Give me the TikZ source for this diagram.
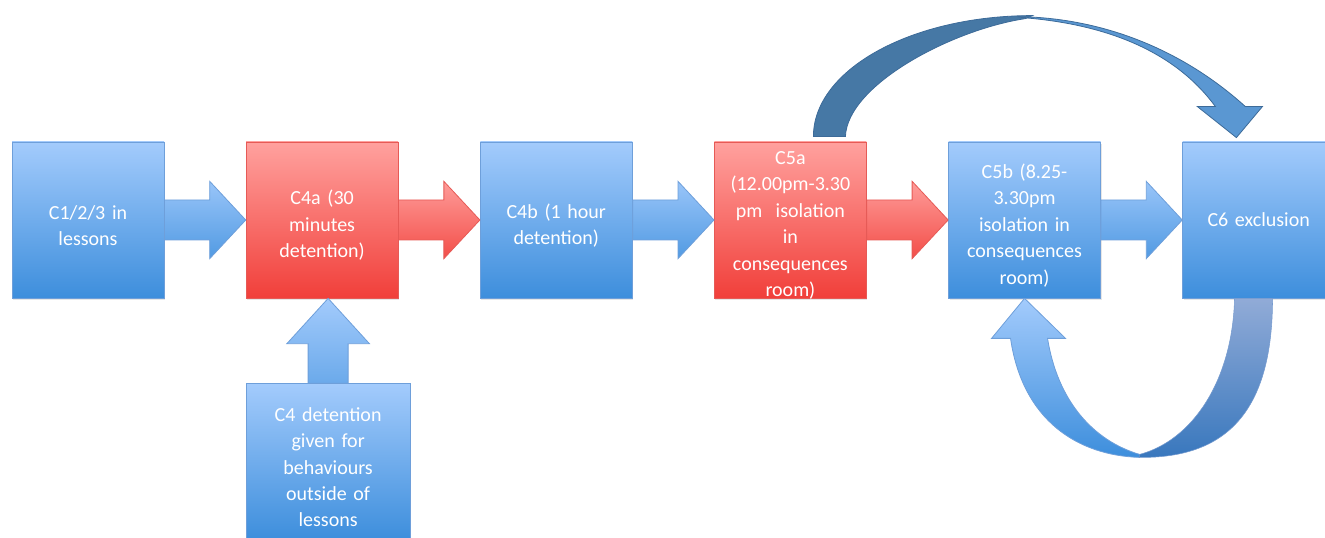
\documentclass[tikz,border=0pt]{standalone}
\usepackage{fontspec}
\setmainfont{Carlito}
\usetikzlibrary{positioning, calc, shadows}

\definecolor{bluetop}{HTML}{A3CBFC}
\definecolor{bluebot}{HTML}{3D8EDC}
\definecolor{blueline}{HTML}{6E9FDA}
\definecolor{redtop}{HTML}{FFA19E}
\definecolor{redbot}{HTML}{F13F3A}
\definecolor{redline}{HTML}{E65A56}
\definecolor{arcdark}{HTML}{4678A5}
\definecolor{arclight}{HTML}{5A97D2}
\definecolor{arcline}{HTML}{3D6B99}
\definecolor{loopgrey}{HTML}{91ABD7}
\definecolor{loopbot}{HTML}{3877BD}

% pull the text a little lower inside the boxes
\newcommand{\boxtail}{\par\kern-8pt}

\begin{document}
\begin{tikzpicture}[
    x=0.75pt, y=-0.75pt,
    box/.style={rectangle, draw=blueline, line width=0.6pt, top color=bluetop, bottom color=bluebot, minimum width=114pt, minimum height=117pt, text width=106pt, align=center, inner sep=0pt, text=white, font=\fontsize{15}{19.8}\selectfont, execute at end node=\boxtail, drop shadow={opacity=0.2, shadow xshift=0.8pt, shadow yshift=-1.2pt}},
    redbox/.style={box, draw=redline, top color=redtop, bottom color=redbot},
    bluearrow/.style={draw=blueline, line width=0.6pt, top color=bluetop!90!bluebot, bottom color=bluebot!80!bluetop,
        to path={let \p1=(\tikztostart), \p2=(\tikztotarget) in (\x1,\y1+15pt) -- (\x2-27pt,\y1+15pt) -- (\x2-27pt,\y1+29pt) -- (\x2,\y1) -- (\x2-27pt,\y1-29pt) -- (\x2-27pt,\y1-15pt) -- (\x1,\y1-15pt) -- cycle}},
    redarrow/.style={bluearrow, draw=redline, top color=redtop!95!redbot, bottom color=redbot!85!redtop},
    uparrow/.style={draw=blueline, line width=0.6pt, top color=bluetop, bottom color=bluetop!45!bluebot,
        to path={let \p1=(\tikztostart), \p2=(\tikztotarget) in (\x1-15pt,\y1) -- (\x1-15pt,\y2-34pt) -- (\x1-31pt,\y2-34pt) -- (\x1,\y2) -- (\x1+31pt,\y2-34pt) -- (\x1+15pt,\y2-34pt) -- (\x1+15pt,\y1) -- cycle}}
]
\useasboundingbox (0,0) rectangle (1325,538);
\clip (0,0) rectangle (1325,538);

% Boxes
\node[box] (c1) at (88,220) {C1/2/3 in\\lessons};
\node[redbox, right=61pt of c1] (c4a) {C4a (30\\minutes\\detention)};
\node[box, right=61pt of c4a] (c4b) {C4b (1 hour\\detention)};
\node[redbox, right=61pt of c4b] (c5a) {C5a\\(12.00pm-3.30\\pm~ isolation\\in\\consequences\\room)};
\node[box, right=61pt of c5a] (c5b) {C5b (8.25-\\3.30pm\\isolation in\\consequences\\room)};
\node[box, right=61pt of c5b] (c6) {C6 exclusion};
\node[box, minimum width=123pt, text width=115pt, below=63.75pt of c4a, xshift=4.5pt] (c4d) {C4 detention\\given for\\behaviours\\outside of\\lessons};

% Arrows
\draw[bluearrow] (c1.east) to (c4a.west);
\draw[redarrow] (c4a.east) to (c4b.west);
\draw[bluearrow] (c4b.east) to (c5a.west);
\draw[redarrow] (c5a.east) to (c5b.west);
\draw[bluearrow] (c5b.east) to (c6.west);
\draw[uparrow] (c4d.north) to (c4a.south);

% Curved arrow over the top
\begin{scope}[shift={(c5a.north)}]
  \filldraw[fill=arcdark, draw=arcline, line width=0.6pt] (23,-5) .. controls (23,-72) and (121,-126) .. (242,-126)
    -- (235,-123) .. controls (162,-112) and (57,-57) .. (55,-5) -- cycle;
  \filldraw[fill=arclight, draw=arcline, line width=0.6pt] (227,-125) .. controls (312,-124) and (392,-92) .. (455,-35)
    -- (472,-35) -- (446,-4) -- (407,-35) -- (425,-35)
    .. controls (387,-87) and (322,-117) .. (232,-124) -- cycle;
\end{scope}

% Loop back underneath
\begin{scope}[shift={(c5b.south)}]
  \draw[draw=blueline, line width=0.6pt, top color=bluetop, bottom color=bluebot] (0,0) -- (41,40) -- (23,40)
    .. controls (33,102) and (68,142) .. (115,156)
    -- (115,159) .. controls (53,157) and (-2,122) .. (-14,40) -- (-33,40) -- cycle;
  \draw[draw=loopgrey!70!loopbot, line width=0.4pt, top color=loopgrey, bottom color=loopbot] (210,0) -- (248,0)
    .. controls (248,112) and (203,160) .. (115,159)
    -- (115,156) .. controls (168,142) and (208,82) .. (210,0) -- cycle;
\end{scope}

\end{tikzpicture}
\end{document}
